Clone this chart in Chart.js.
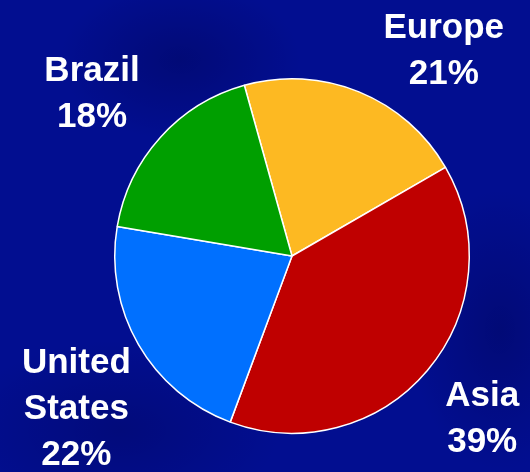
<!DOCTYPE html>
<html>
<head>
<meta charset="utf-8">
<script src="https://cdn.jsdelivr.net/npm/chart.js@4/dist/chart.umd.min.js"></script>
<style>
  html, body { margin: 0; padding: 0; }
  body {
    width: 530px; height: 472px; overflow: hidden;
    background:
      radial-gradient(ellipse 120px 80px at 180px 60px, rgba(0,0,60,0.3), rgba(0,0,60,0)),
      radial-gradient(ellipse 90px 140px at 500px 330px, rgba(0,0,60,0.3), rgba(0,0,60,0)),
      radial-gradient(ellipse 160px 90px at 120px 430px, rgba(0,0,60,0.25), rgba(0,0,60,0)),
      #020e90;
  }
  #wrap { position: relative; width: 530px; height: 472px; }
</style>
</head>
<body>
<div id="wrap"><canvas id="pie"></canvas></div>
<script>
// market share by region
const regions = ['Europe', 'Asia', 'United States', 'Brazil'];
const shares = [21, 39, 22, 18];

const sliceColors = ['#fdb922', '#bf0000', '#0070ff', '#009f00'];

// label anchor tweaks: angle shift (deg) from slice middle, distance as multiple of radius
const labelPlacement = [
  { shift: 14, dist: 1.45 },
  { shift: 0, dist: 1.405 },
  { shift: -5, dist: 1.485 },
  { shift: -2.6, dist: 1.46 }
];

const outsideLabels = {
  id: 'outsideLabels',
  afterDatasetsDraw(chart) {
    const ctx = chart.ctx;
    const meta = chart.getDatasetMeta(0);
    const lineH = 46, capH = 25;
    ctx.save();
    ctx.fillStyle = '#ffffff';
    ctx.font = 'bold 35px "Liberation Sans", Arial, sans-serif';
    ctx.textAlign = 'center';
    ctx.textBaseline = 'alphabetic';
    meta.data.forEach((arc, i) => {
      const p = arc.getProps(['x', 'y', 'startAngle', 'endAngle', 'outerRadius'], true);
      const place = labelPlacement[i];
      const mid = (p.startAngle + p.endAngle) / 2 + place.shift * Math.PI / 180;
      const cx = p.x + Math.cos(mid) * p.outerRadius * place.dist;
      const cy = p.y + Math.sin(mid) * p.outerRadius * place.dist;
      const lines = regions[i].split(' ').concat([shares[i] + '%']);
      let y = cy - (lines.length - 1) * lineH / 2 + capH / 2;
      lines.forEach(t => { ctx.fillText(t, cx, y); y += lineH; });
    });
    ctx.restore();
  }
};

new Chart(document.getElementById('pie'), {
  type: 'pie',
  data: {
    labels: regions,
    datasets: [{
      data: shares,
      backgroundColor: sliceColors,
      borderColor: '#ffffff',
      borderWidth: 1.5,
      hoverOffset: 0
    }]
  },
  options: {
    responsive: true,
    maintainAspectRatio: false,
    animation: false,
    rotation: -15.6,
    layout: { padding: { left: 114, right: 60, top: 78, bottom: 38 } },
    plugins: {
      legend: { display: false },
      tooltip: { enabled: false }
    }
  },
  plugins: [outsideLabels]
});
</script>
</body>
</html>
